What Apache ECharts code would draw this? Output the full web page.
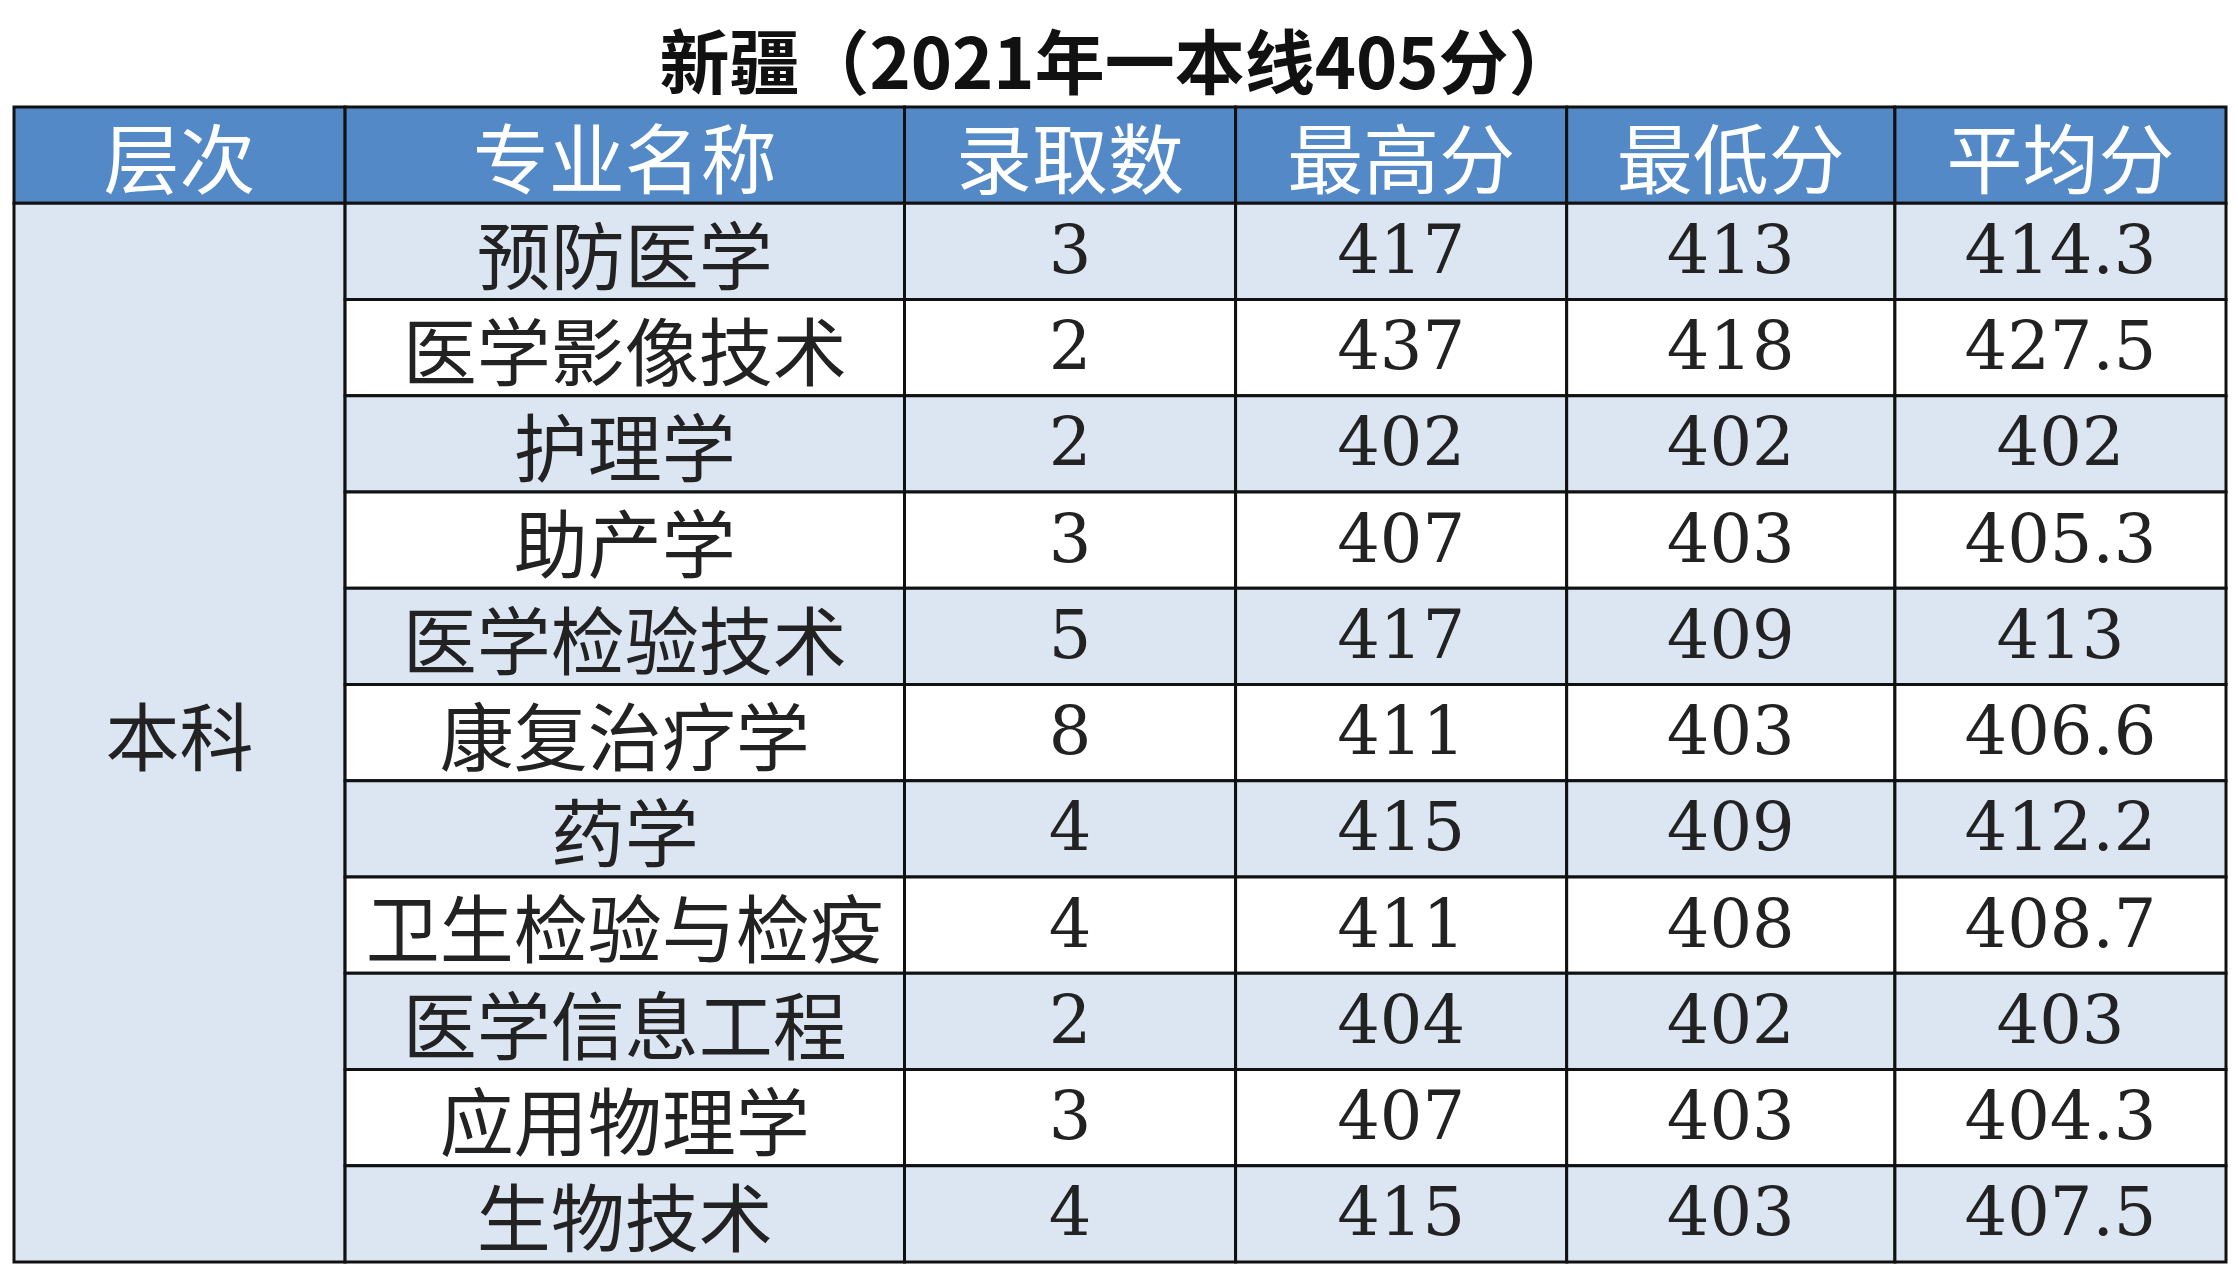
<!DOCTYPE html>
<html><head><meta charset="utf-8">
<script src="https://cdn.jsdelivr.net/npm/echarts@6/dist/echarts.min.js"></script>
<style>html,body{margin:0;padding:0;background:#fff}#c{width:2238px;height:1280px}</style>
</head><body><div id="c"></div>
<script>
const title = '新疆（2021年一本线405分）';
const headers = ['层次','专业名称','录取数','最高分','最低分','平均分'];
const level = '本科';
const majors = ['预防医学','医学影像技术','护理学','助产学','医学检验技术','康复治疗学','药学','卫生检验与检疫','医学信息工程','应用物理学','生物技术'];
const counts = ['3','2','2','3','5','8','4','4','2','3','4'];
const maxScores = ['417','437','402','407','417','411','415','411','404','407','415'];
const minScores = ['413','418','402','403','409','403','409','408','402','403','403'];
const avgScores = ['414.3','427.5','402','405.3','413','406.6','412.2','408.7','403','404.3','407.5'];

const colEdges = [0,232,624,856,1088,1318,1550];
const cells = [];
headers.forEach((h,c)=>cells.push({c0:c,c1:c+1,r0:0,r1:1,text:h,kind:'head'}));
cells.push({c0:0,c1:1,r0:1,r1:1+majors.length,text:level,kind:'level'});
majors.forEach((m,i)=>{
  const vals=[m,counts[i],maxScores[i],minScores[i],avgScores[i]];
  vals.forEach((v,j)=>cells.push({c0:j+1,c1:j+2,r0:i+1,r1:i+2,text:v,kind:i%2===0?'odd':'even'}));
});
const fills={head:'#5489c8',level:'#dce6f2',odd:'#dce6f2',even:'#ffffff'};
const chart=echarts.init(document.getElementById('c'));
chart.setOption({
  backgroundColor:'#fff',
  title:{text:title,left:'center',top:22,textStyle:{fontSize:70,fontWeight:'bold',color:'#111',fontFamily:'Noto Sans CJK SC'}},
  grid:{left:14,right:12,top:107,bottom:18},
  xAxis:{type:'value',min:0,max:1550,show:false},
  yAxis:{type:'value',min:0,max:12,inverse:true,show:false},
  series:[{
    type:'custom',
    data:cells.map((d,i)=>[d.c0,d.r0,i]),
    renderItem:function(params,api){
      const d=cells[api.value(2)];
      const p0=api.coord([colEdges[d.c0],d.r0]);
      const p1=api.coord([colEdges[d.c1],d.r1]);
      const head=d.kind==='head';
      const isNum=!head&&d.c0>=2;
      return {type:'group',children:[
        {type:'rect',shape:{x:p0[0],y:p0[1],width:p1[0]-p0[0],height:p1[1]-p0[1]},
         style:{fill:fills[d.kind],stroke:'#111',lineWidth:3}},
        {type:'text',style:{text:d.text,x:(p0[0]+p1[0])/2,y:(p0[1]+p1[1])/2+4,align:'center',verticalAlign:'middle',
          fill:head?'#fff':'#222',fontSize:head?76:(isNum?67:74),
          fontFamily:isNum?'DejaVu Serif':'Noto Sans CJK SC',fontWeight:'normal'}}
      ]};
    }
  }]
});
</script></body></html>
